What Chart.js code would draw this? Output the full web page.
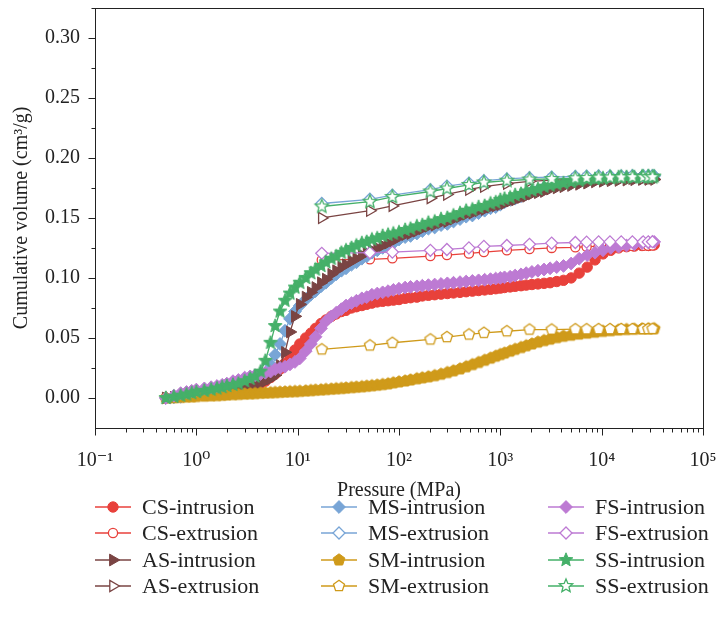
<!DOCTYPE html>
<html>
<head>
<meta charset="utf-8">
<script src="https://cdn.jsdelivr.net/npm/chart.js@4.4.1/dist/chart.umd.min.js"></script>
<style>
  html, body { margin: 0; padding: 0; background: #fff; }
  #wrap { position: relative; width: 718px; height: 629px; font-family: 'Liberation Serif', 'DejaVu Serif', serif; color: #222; }
  #chart { position: absolute; left: 0; top: 0; }
  .item { position: absolute; height: 24px; display: flex; align-items: center; font-size: 22px; white-space: nowrap; }
  .item canvas { margin-right: 9px; }
</style>
</head>
<body>
<div id="wrap">
  <canvas id="chart" width="718" height="503"></canvas>
  <div id="legend"></div>
</div>
<script>
// pressure steps (MPa)
const pressureIn = [0.5, 0.6, 0.7, 0.8, 0.9, 1.0, 1.2, 1.4, 1.6, 1.8,
  2.0, 2.3, 2.6, 3.0, 3.4, 3.8, 4.3, 4.8, 5.4, 6.0,
  6.7, 7.5, 8.4, 9.4, 10.5, 12, 13.5, 15, 17, 19,
  21.5, 24, 27, 30, 34, 38, 43, 48, 54, 61,
  69, 78, 88, 100, 115, 130, 150, 170, 195, 225,
  260, 300, 345, 400, 460, 530, 610, 700, 800, 900,
  1000, 1100, 1250, 1400, 1600, 1800, 2050, 2350, 2700, 3100,
  3600, 4200, 5000, 6000, 7200, 8600, 10300, 12300, 14700, 17600,
  21000, 25000, 29000, 33000];
const pressureOut = [17.3, 51.6, 86, 204, 297, 490, 688, 1160, 1940, 3210,
  5500, 7100, 9330, 12080, 15600, 20100, 25700, 28800, 31700];

// cumulative volume (cm3/g)
const csIn = [0, 0.0005, 0.001, 0.0015, 0.002, 0.0025, 0.003, 0.0035, 0.004, 0.0045,
  0.005, 0.006, 0.007, 0.008, 0.009, 0.010, 0.012, 0.014, 0.017, 0.020,
  0.024, 0.029, 0.035, 0.040, 0.045, 0.050, 0.054, 0.058, 0.062, 0.065,
  0.068, 0.070, 0.072, 0.073, 0.075, 0.076, 0.077, 0.078, 0.079, 0.080,
  0.0805, 0.081, 0.0815, 0.082, 0.083, 0.0835, 0.084, 0.085, 0.0855, 0.086,
  0.0865, 0.087, 0.0875, 0.088, 0.0885, 0.089, 0.0895, 0.090, 0.0905, 0.091,
  0.0915, 0.092, 0.0925, 0.093, 0.0935, 0.094, 0.0945, 0.095, 0.0955, 0.096,
  0.097, 0.098, 0.100, 0.104, 0.109, 0.115, 0.120, 0.123, 0.125, 0.126,
  0.1265, 0.127, 0.127, 0.1275];
const csOut = [0.115, 0.1155, 0.1163, 0.1182, 0.119, 0.1204, 0.1215, 0.123, 0.124, 0.125,
  0.1255, 0.126, 0.1262, 0.1264, 0.1265, 0.1266, 0.1267, 0.1268, 0.127];

const asIn = [0, 0.0005, 0.001, 0.0015, 0.002, 0.003, 0.0035, 0.004, 0.0045, 0.005,
  0.0055, 0.0065, 0.0075, 0.0085, 0.0095, 0.011, 0.012, 0.014, 0.016, 0.019,
  0.027, 0.038, 0.055, 0.068, 0.078, 0.084, 0.088, 0.092, 0.096, 0.099,
  0.103, 0.106, 0.109, 0.111, 0.114, 0.116, 0.119, 0.121, 0.123, 0.125,
  0.127, 0.129, 0.131, 0.134, 0.136, 0.137, 0.139, 0.141, 0.143, 0.144,
  0.146, 0.147, 0.149, 0.151, 0.153, 0.154, 0.156, 0.157, 0.159, 0.160,
  0.161, 0.162, 0.164, 0.165, 0.167, 0.168, 0.170, 0.171, 0.172, 0.174,
  0.175, 0.176, 0.177, 0.178, 0.179, 0.180, 0.1805, 0.181, 0.1812, 0.1815,
  0.1818, 0.182, 0.182, 0.182];
const asOut = [0.150, 0.156, 0.160, 0.1665, 0.1695, 0.1735, 0.176, 0.1785, 0.1805, 0.1815,
  0.182, 0.1822, 0.1825, 0.1826, 0.1827, 0.1828, 0.1828, 0.1829, 0.183];

const msIn = [0, 0.0005, 0.001, 0.002, 0.0025, 0.003, 0.004, 0.0045, 0.005, 0.006,
  0.0065, 0.0075, 0.0085, 0.010, 0.012, 0.014, 0.017, 0.021, 0.028, 0.036,
  0.045, 0.056, 0.066, 0.072, 0.077, 0.082, 0.086, 0.089, 0.093, 0.096,
  0.100, 0.103, 0.106, 0.108, 0.111, 0.113, 0.116, 0.118, 0.121, 0.123,
  0.125, 0.127, 0.129, 0.132, 0.134, 0.135, 0.137, 0.139, 0.141, 0.142,
  0.144, 0.145, 0.147, 0.149, 0.151, 0.152, 0.154, 0.156, 0.158, 0.159,
  0.161, 0.163, 0.165, 0.166, 0.168, 0.170, 0.172, 0.173, 0.175, 0.176,
  0.177, 0.178, 0.179, 0.180, 0.181, 0.182, 0.1825, 0.183, 0.1835, 0.184,
  0.184, 0.1845, 0.1845, 0.185];
const msOut = [0.162, 0.1655, 0.169, 0.1735, 0.1765, 0.179, 0.181, 0.1825, 0.1835, 0.184,
  0.1845, 0.1848, 0.185, 0.185, 0.185, 0.1852, 0.1852, 0.1852, 0.1852];

const smIn = [0, 0.0003, 0.0006, 0.0008, 0.001, 0.0012, 0.0015, 0.0018, 0.002, 0.0023,
  0.0025, 0.0028, 0.003, 0.0033, 0.0035, 0.0037, 0.004, 0.0042, 0.0044, 0.0046,
  0.0048, 0.005, 0.0052, 0.0054, 0.0056, 0.0059, 0.0062, 0.0065, 0.0068, 0.0071,
  0.0074, 0.0077, 0.008, 0.0083, 0.0087, 0.009, 0.0094, 0.0098, 0.0102, 0.0107,
  0.0112, 0.0118, 0.0126, 0.0134, 0.0142, 0.015, 0.016, 0.0168, 0.0176, 0.0186,
  0.0198, 0.0212, 0.0226, 0.0242, 0.026, 0.0278, 0.0296, 0.0314, 0.0332, 0.0348,
  0.0362, 0.0374, 0.039, 0.0405, 0.042, 0.0435, 0.045, 0.0465, 0.0478, 0.049,
  0.0503, 0.0514, 0.0523, 0.0532, 0.054, 0.0548, 0.0555, 0.0561, 0.0566, 0.057,
  0.0573, 0.0575, 0.0576, 0.0577];
const smOut = [0.0405, 0.0438, 0.046, 0.0488, 0.0507, 0.0529, 0.0543, 0.0556, 0.057, 0.057,
  0.0573, 0.0573, 0.0574, 0.0574, 0.0575, 0.0575, 0.0575, 0.0575, 0.0576];

const fsIn = [0, 0.002, 0.004, 0.005, 0.006, 0.007, 0.008, 0.009, 0.010, 0.011,
  0.012, 0.014, 0.015, 0.017, 0.018, 0.019, 0.020, 0.021, 0.022, 0.024,
  0.025, 0.026, 0.028, 0.030, 0.033, 0.039, 0.045, 0.051, 0.058, 0.064,
  0.068, 0.071, 0.074, 0.077, 0.079, 0.081, 0.083, 0.084, 0.086, 0.087,
  0.088, 0.089, 0.090, 0.091, 0.092, 0.0925, 0.093, 0.0935, 0.094, 0.0945,
  0.095, 0.0955, 0.096, 0.0965, 0.097, 0.0975, 0.098, 0.0985, 0.099, 0.0995,
  0.100, 0.1005, 0.101, 0.102, 0.103, 0.104, 0.105, 0.106, 0.107, 0.108,
  0.109, 0.110, 0.112, 0.116, 0.119, 0.121, 0.123, 0.125, 0.126, 0.127,
  0.128, 0.129, 0.1295, 0.130];
const fsOut = [0.1205, 0.121, 0.1215, 0.123, 0.1237, 0.125, 0.1263, 0.127, 0.128, 0.129,
  0.1295, 0.1298, 0.130, 0.130, 0.130, 0.130, 0.130, 0.130, 0.1302];

const ssIn = [0, 0.001, 0.002, 0.003, 0.004, 0.005, 0.006, 0.007, 0.008, 0.009,
  0.010, 0.011, 0.012, 0.014, 0.016, 0.018, 0.022, 0.031, 0.046, 0.060,
  0.072, 0.081, 0.087, 0.092, 0.096, 0.100, 0.104, 0.107, 0.110, 0.113,
  0.116, 0.118, 0.121, 0.123, 0.125, 0.127, 0.129, 0.130, 0.132, 0.133,
  0.135, 0.136, 0.137, 0.138, 0.140, 0.141, 0.143, 0.144, 0.146, 0.147,
  0.149, 0.150, 0.152, 0.154, 0.156, 0.157, 0.159, 0.160, 0.162, 0.163,
  0.165, 0.166, 0.167, 0.169, 0.170, 0.172, 0.173, 0.174, 0.176, 0.177,
  0.178, 0.179, 0.180, 0.181, 0.182, 0.1825, 0.183, 0.1835, 0.184, 0.184,
  0.184, 0.1845, 0.1845, 0.1845];
const ssOut = [0.1595, 0.1635, 0.1675, 0.172, 0.1745, 0.1775, 0.1795, 0.181, 0.182, 0.1825,
  0.183, 0.1833, 0.1835, 0.1837, 0.1838, 0.184, 0.184, 0.184, 0.184];

// axis tick labels
const xTickValues = [0.1, 1, 10, 100, 1000, 10000, 100000];
const xTickLabels = ['10⁻¹', '10⁰', '10¹', '10²', '10³', '10⁴', '10⁵'];
const yTickValues = [0, 0.05, 0.10, 0.15, 0.20, 0.25, 0.30];
const yTickLabels = ['0.00', '0.05', '0.10', '0.15', '0.20', '0.25', '0.30'];

const colors = {
  CS: '#e8413b', AS: '#7a4443', MS: '#78a5d6', SM: '#cf9a1a', FS: '#bd7ad3', SS: '#45b069'
};

// z: drawing layer, higher is on top
const series = [
  { label: 'CS-intrusion', p: pressureIn, v: csIn, color: colors.CS, shape: 'circle', open: false, z: 1 },
  { label: 'CS-extrusion', p: pressureOut, v: csOut, color: colors.CS, shape: 'circle', open: true, z: 2 },
  { label: 'AS-intrusion', p: pressureIn, v: asIn, color: colors.AS, shape: 'triangle', open: false, z: 4 },
  { label: 'AS-extrusion', p: pressureOut, v: asOut, color: colors.AS, shape: 'triangle', open: true, z: 5 },
  { label: 'MS-intrusion', p: pressureIn, v: msIn, color: colors.MS, shape: 'diamond', open: false, z: 3 },
  { label: 'MS-extrusion', p: pressureOut, v: msOut, color: colors.MS, shape: 'diamond', open: true, z: 6 },
  { label: 'SM-intrusion', p: pressureIn, v: smIn, color: colors.SM, shape: 'pentagon', open: false, z: 7 },
  { label: 'SM-extrusion', p: pressureOut, v: smOut, color: colors.SM, shape: 'pentagon', open: true, z: 8 },
  { label: 'FS-intrusion', p: pressureIn, v: fsIn, color: colors.FS, shape: 'diamond', open: false, z: 9 },
  { label: 'FS-extrusion', p: pressureOut, v: fsOut, color: colors.FS, shape: 'diamond', open: true, z: 10 },
  { label: 'SS-intrusion', p: pressureIn, v: ssIn, color: colors.SS, shape: 'star', open: false, z: 11 },
  { label: 'SS-extrusion', p: pressureOut, v: ssOut, color: colors.SS, shape: 'star', open: true, z: 12 }
];

// marker sizes (radius, px): [filled, open]
const sizes = {
  circle: [5.2, 4.6], triangle: [6.8, 6.4], diamond: [6.4, 6], pentagon: [6.2, 5.8], star: [7.2, 7]
};

function shapePath(ctx, shape, cx, cy, r) {
  ctx.beginPath();
  if (shape === 'circle') {
    ctx.arc(cx, cy, r, 0, Math.PI * 2);
  } else if (shape === 'triangle') {
    for (let i = 0; i < 3; i++) {
      const a = i * 2 * Math.PI / 3;
      ctx.lineTo(cx + r * Math.cos(a), cy + r * Math.sin(a));
    }
  } else if (shape === 'diamond') {
    ctx.moveTo(cx, cy - r); ctx.lineTo(cx + r, cy); ctx.lineTo(cx, cy + r); ctx.lineTo(cx - r, cy);
  } else if (shape === 'pentagon') {
    for (let i = 0; i < 5; i++) {
      const a = -Math.PI / 2 + i * 2 * Math.PI / 5;
      ctx.lineTo(cx + r * Math.cos(a), cy + r * Math.sin(a));
    }
  } else if (shape === 'star') {
    for (let i = 0; i < 10; i++) {
      const a = -Math.PI / 2 + i * Math.PI / 5;
      const rr = i % 2 ? r * 0.45 : r;
      ctx.lineTo(cx + rr * Math.cos(a), cy + rr * Math.sin(a));
    }
  }
  ctx.closePath();
}

function paintMarker(ctx, s, cx, cy) {
  const r = sizes[s.shape][s.open ? 1 : 0];
  shapePath(ctx, s.shape, cx, cy, r);
  ctx.fillStyle = s.open ? '#fff' : s.color;
  ctx.fill();
  ctx.lineWidth = s.open ? 1.3 : 1;
  ctx.strokeStyle = s.color;
  ctx.stroke();
}

function markerCanvas(s) {
  const c = document.createElement('canvas');
  c.width = 20; c.height = 20;
  paintMarker(c.getContext('2d'), s, 10, 10);
  return c;
}

function pointOptions(s) {
  const r = sizes[s.shape][s.open ? 1 : 0];
  const base = {
    pointRadius: r,
    pointBackgroundColor: s.open ? '#fff' : s.color,
    pointBorderColor: s.color,
    pointBorderWidth: s.open ? 1.3 : 1
  };
  if (s.shape === 'circle') return Object.assign(base, { pointStyle: 'circle' });
  if (s.shape === 'triangle') return Object.assign(base, { pointStyle: 'triangle', pointRotation: 90 });
  if (s.shape === 'diamond') return Object.assign(base, { pointStyle: 'rectRot' });
  return Object.assign(base, { pointStyle: markerCanvas(s), pointRadius: 5 });
}

const datasets = series.map(s => Object.assign({
  label: s.label,
  data: s.p.map((p, k) => ({ x: p, y: s.v[k] })),
  borderColor: s.color,
  borderWidth: 1.3,
  tension: 0,
  fill: false,
  order: 20 - s.z
}, pointOptions(s)));

const fontFamily = "'Liberation Serif', 'DejaVu Serif', serif";
Chart.defaults.font.family = fontFamily;
Chart.defaults.color = '#222';

// frame and tick marks
const framePlugin = {
  id: 'frame',
  afterDraw(chart) {
    const ctx = chart.ctx, a = chart.chartArea;
    const xs = chart.scales.x, ys = chart.scales.y;
    const L = Math.round(a.left) + 0.5, R = Math.round(a.right) + 0.5;
    const T = Math.round(a.top) + 0.5, B = Math.round(a.bottom) + 0.5;
    ctx.save();
    ctx.strokeStyle = '#222';
    ctx.lineWidth = 1;
    ctx.strokeRect(L, T, R - L, B - T);
    ctx.beginPath();
    for (let e = -1; e <= 5; e++) {
      const px = Math.round(xs.getPixelForValue(Math.pow(10, e))) + 0.5;
      ctx.moveTo(px, B); ctx.lineTo(px, B + 7);
      if (e < 5) {
        for (let m = 2; m <= 9; m++) {
          const mx = Math.round(xs.getPixelForValue(m * Math.pow(10, e))) + 0.5;
          ctx.moveTo(mx, B); ctx.lineTo(mx, B + 4);
        }
      }
    }
    yTickValues.forEach(v => {
      const py = Math.round(ys.getPixelForValue(v)) + 0.5;
      ctx.moveTo(L, py); ctx.lineTo(L - 7, py);
      const my = Math.round(ys.getPixelForValue(v + 0.025)) + 0.5;
      ctx.moveTo(L, my); ctx.lineTo(L - 4, my);
    });
    ctx.stroke();
    ctx.restore();
  }
};

new Chart(document.getElementById('chart'), {
  type: 'line',
  data: { datasets },
  options: {
    responsive: false,
    animation: false,
    layout: { padding: { top: 6, right: 15, left: 0, bottom: 0 } },
    plugins: { legend: { display: false }, tooltip: { enabled: false } },
    scales: {
      x: {
        type: 'logarithmic',
        min: 0.1,
        max: 100000,
        grid: { display: false, drawTicks: false },
        border: { display: false },
        afterBuildTicks: s => { s.ticks = xTickValues.map(v => ({ value: v })); },
        afterFit: s => { s.height = 75; s.paddingLeft = 0; s.paddingRight = 0; },
        ticks: {
          autoSkip: false, maxRotation: 0, padding: 21,
          font: { size: 20 }, color: '#222',
          callback: (v, i) => xTickLabels[i]
        },
        title: { display: true, text: 'Pressure (MPa)', font: { size: 20 }, color: '#222', padding: { top: 0, bottom: 0 } }
      },
      y: {
        min: -0.025,
        max: 0.325,
        grid: { display: false, drawTicks: false },
        border: { display: false },
        afterBuildTicks: s => { s.ticks = yTickValues.map(v => ({ value: v })); },
        afterFit: s => { s.width = 95; s.paddingTop = 0; s.paddingBottom = 0; },
        ticks: {
          padding: 15, font: { size: 20 }, color: '#222',
          callback: (v, i) => yTickLabels[i]
        },
        title: { display: true, text: 'Cumulative volume (cm³/g)', font: { size: 20 }, color: '#222', padding: { top: 10, bottom: 0 } }
      }
    }
  },
  plugins: [framePlugin]
});

// legend, three columns filled top to bottom
const legendCols = [93, 319, 546];
const legendRows = [507, 533, 560, 586];
const legend = document.getElementById('legend');
series.forEach((s, i) => {
  const item = document.createElement('div');
  item.className = 'item';
  item.style.left = legendCols[Math.floor(i / 4)] + 'px';
  item.style.top = (legendRows[i % 4] - 12) + 'px';
  const icon = document.createElement('canvas');
  icon.width = 40; icon.height = 20;
  const c = icon.getContext('2d');
  c.strokeStyle = s.color; c.lineWidth = 1.5;
  c.beginPath(); c.moveTo(2, 10); c.lineTo(38, 10); c.stroke();
  paintMarker(c, s, 20, 10);
  const text = document.createElement('span');
  text.textContent = s.label;
  item.appendChild(icon);
  item.appendChild(text);
  legend.appendChild(item);
});
</script>
</body>
</html>
